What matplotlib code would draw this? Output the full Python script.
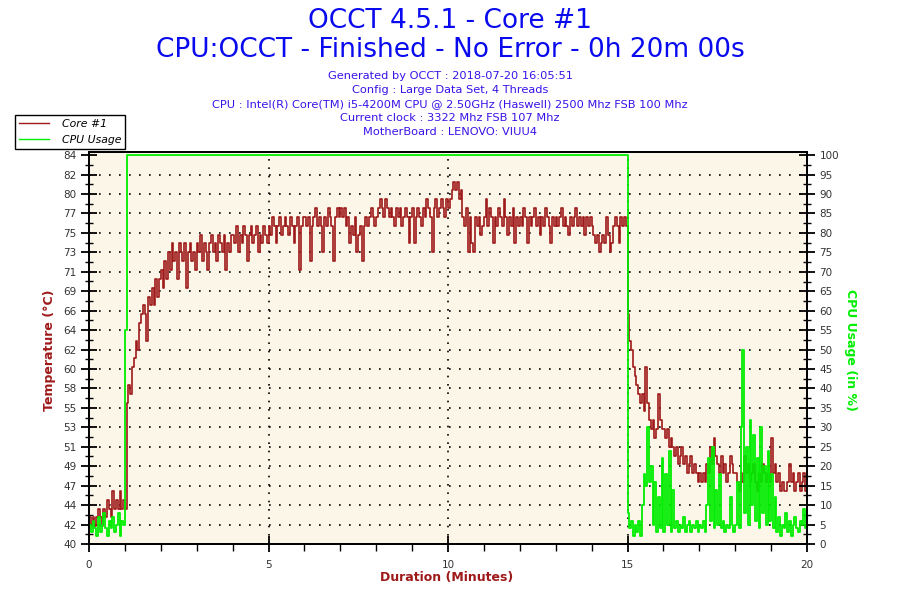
import numpy as np
import matplotlib
matplotlib.use("Agg")
import matplotlib.pyplot as plt
from matplotlib.ticker import FixedLocator, MultipleLocator, AutoMinorLocator

# OCCT log, one sample every 3 seconds (20 per minute)
samples_per_min = 20

core_temp = [
    43, 42, 43, 42, 43, 44, 43, 42, 44, 43, 45, 44, 43, 46, 44, 45, 44, 46, 44, 45,   # 0
    44, 56, 58, 57, 60, 61, 63, 62, 65, 66, 67, 66, 63, 68, 67, 69, 67, 70, 68, 70,   # 1
    71, 69, 72, 70, 73, 71, 74, 72, 73, 70, 74, 73, 72, 74, 69, 73, 74, 72, 73, 71,   # 2
    74, 73, 75, 72, 74, 73, 71, 74, 75, 73, 74, 72, 75, 74, 73, 75, 71, 74, 73, 75,   # 3
    75, 74, 76, 73, 75, 74, 76, 75, 72, 75, 76, 74, 75, 76, 73, 75, 74, 76, 75, 74,   # 4
    76, 75, 77, 76, 74, 76, 77, 75, 76, 77, 76, 75, 77, 76, 74, 76, 77, 71, 76, 77,   # 5
    77, 76, 77, 72, 76, 77, 78, 76, 77, 76, 73, 77, 76, 78, 77, 76, 72, 77, 78, 77,   # 6
    78, 77, 78, 76, 77, 74, 76, 75, 77, 73, 75, 76, 72, 76, 77, 76, 77, 78, 77, 76,   # 7
    77, 78, 79, 78, 77, 79, 78, 77, 78, 77, 76, 78, 77, 78, 76, 77, 78, 77, 74, 77,   # 8
    78, 74, 77, 78, 77, 76, 78, 77, 79, 78, 77, 73, 78, 79, 77, 78, 79, 78, 77, 79,   # 9
    78, 79, 80, 81, 80, 81, 79, 80, 77, 76, 78, 73, 77, 74, 73, 77, 76, 77, 75, 76,   # 10
    77, 79, 76, 78, 77, 74, 77, 76, 78, 77, 76, 79, 77, 75, 77, 76, 78, 74, 77, 76,   # 11
    77, 76, 78, 77, 74, 77, 76, 77, 78, 76, 77, 75, 77, 76, 78, 77, 76, 74, 77, 76,   # 12
    77, 76, 77, 78, 76, 77, 76, 75, 77, 76, 77, 78, 76, 77, 76, 77, 75, 77, 76, 77,   # 13
    76, 75, 74, 75, 73, 74, 75, 74, 77, 75, 73, 74, 76, 77, 76, 74, 77, 76, 77, 76,   # 14
    66, 63, 62, 60, 59, 58, 57, 56, 57, 55, 60, 56, 54, 53, 54, 52, 53, 57, 54, 53,   # 15
    53, 52, 53, 51, 52, 51, 50, 51, 49, 50, 51, 49, 50, 48, 49, 50, 48, 49, 48, 47,   # 16
    48, 47, 48, 47, 49, 48, 51, 49, 52, 50, 49, 48, 50, 48, 49, 47, 48, 50, 49, 48,   # 17
    48, 47, 46, 48, 47, 50, 48, 49, 47, 48, 49, 47, 46, 48, 47, 49, 48, 47, 48, 47,   # 18
    52, 48, 49, 47, 48, 46, 47, 46, 46, 47, 49, 47, 48, 46, 47, 48, 46, 47, 48, 46,   # 19
    46,
]

cpu_usage = [
    5, 3, 6, 4, 2, 7, 3, 5, 8, 4, 2, 6, 4, 7, 3, 5, 8, 2, 6, 5,                       # 0
    55] + [100] * (14 * 20 - 1) + [                                                   # 1 - 14
    8, 4, 6, 2, 5, 3, 6, 2, 10, 18, 15, 30, 16, 20, 5, 16, 3, 12, 4, 22,              # 15
    3, 18, 5, 24, 3, 14, 4, 6, 3, 5, 4, 7, 3, 5, 6, 3, 5, 4, 6, 3,                    # 16
    5, 4, 6, 3, 10, 22, 6, 25, 4, 14, 5, 18, 4, 6, 3, 5, 4, 12, 5, 3,                 # 17
    5, 16, 4, 30, 50, 8, 25, 5, 32, 10, 28, 6, 22, 4, 30, 8, 20, 5, 24, 6,            # 18
    18, 4, 12, 3, 7, 2, 5, 4, 8, 3, 6, 2, 5, 7, 4, 3, 6, 5, 9, 4,                     # 19
    5,
]

minutes = np.arange(len(core_temp)) / samples_per_min

title_lines = ["OCCT 4.5.1 - Core #1", "CPU:OCCT - Finished - No Error - 0h 20m 00s"]
info_lines = [
    "Generated by OCCT : 2018-07-20 16:05:51",
    "Config : Large Data Set, 4 Threads",
    "CPU : Intel(R) Core(TM) i5-4200M CPU @ 2.50GHz (Haswell) 2500 Mhz FSB 100 Mhz",
    "Current clock : 3322 Mhz FSB 107 Mhz",
    "MotherBoard : LENOVO: VIUU4",
]

red = "#9e1a1a"
green = "#00ee00"
blue = "#0a0aee"
info_blue = "#3a12e8"

plt.rcParams["font.family"] = ["DejaVu Sans"]

fig = plt.figure(figsize=(9, 6), dpi=100)
ax = fig.add_axes([89 / 900, 1 - 544 / 600, 718 / 900, 392 / 600])
ax.set_facecolor("#fcf6e8")
ax2 = ax.twinx()

# temperature and cpu load
l1, = ax.step(minutes, core_temp, where="post", color=red, lw=1.2)
l2, = ax2.step(minutes, cpu_usage, where="post", color=green, lw=1.3)

ax.set_xlim(0, 20)
ax.set_ylim(40, 84.35)
ax2.set_ylim(0, 100.8)

temp_ticks = np.linspace(40, 84, 21)
ax.yaxis.set_major_locator(FixedLocator(temp_ticks))
ax.set_yticklabels([str(int(round(v))) for v in temp_ticks])
ax.yaxis.set_minor_locator(AutoMinorLocator(2))
ax.xaxis.set_major_locator(MultipleLocator(5))
ax.xaxis.set_minor_locator(MultipleLocator(1))
ax2.yaxis.set_major_locator(FixedLocator(np.arange(0, 101, 5)))
ax2.yaxis.set_minor_locator(FixedLocator(np.arange(2.5, 100, 5)))

for a in (ax, ax2):
    a.tick_params(axis="y", which="major", direction="inout", length=11, width=1.3,
                  labelsize=7.5, labelcolor="#333333")
    a.tick_params(axis="y", which="minor", direction="inout", length=6, width=1)
    for s in a.spines.values():
        s.set_linewidth(1.3)
ax.tick_params(axis="x", which="major", direction="inout", length=11, width=1.3,
               labelsize=7.5, labelcolor="#333333", pad=6)
ax.tick_params(axis="x", which="minor", direction="out", length=5, width=1)

# dotted grid
for v in temp_ticks[1:-1]:
    ax.axhline(v, color="black", lw=1.2, ls=(0, (1, 5)), zorder=0.5)
for v in (5, 10, 15):
    ax.axvline(v, color="black", lw=1.2, ls=(0, (1, 4)), zorder=0.5)

fig.text(50 / 900, 1 - 350 / 600, "Temperature (°C)", color=red, fontsize=9,
         fontweight="bold", rotation=90, ha="center", va="center")
fig.text(851 / 900, 1 - 350 / 600, "CPU Usage (in %)", color=green, fontsize=9,
         fontweight="bold", rotation=270, ha="center", va="center")
fig.text(447 / 900, 1 - 578 / 600, "Duration (Minutes)", color=red, fontsize=9,
         fontweight="bold", ha="center", va="center")

fig.text(0.5, 1 - 21 / 600, title_lines[0], color=blue, fontsize=19, ha="center", va="center")
fig.text(0.5, 1 - 50 / 600, title_lines[1], color=blue, fontsize=19, ha="center", va="center")
for i, line in enumerate(info_lines):
    fig.text(0.5, 1 - (76 + i * 14) / 600, line, color=info_blue, fontsize=8.2,
             ha="center", va="center")

leg = fig.legend([l1, l2], ["Core #1", "CPU Usage"], loc="upper left",
                 bbox_to_anchor=(15 / 900, 1 - 115 / 600), fancybox=False,
                 framealpha=1, edgecolor="black", prop={"style": "italic", "size": 7.8},
                 handlelength=2.8, borderpad=0.35, labelspacing=0.6, handletextpad=1.2,
                 borderaxespad=0)
leg.get_frame().set_linewidth(1)
for h in leg.get_lines():
    h.set_linewidth(1)

fig.savefig("out.png", dpi=100)
